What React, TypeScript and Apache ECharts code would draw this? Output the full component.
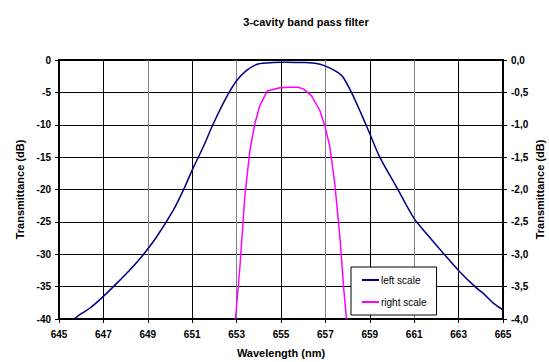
import React, { useEffect, useRef } from "react";
import * as echarts from "echarts";

const titleText = "3-cavity band pass filter";
const xName = "Wavelength (nm)";
const yName = "Transmittance (dB)";
const seriesNames = ["left scale", "right scale"];

const leftWl = [645.69, 645.95, 646.4, 647.0, 647.6, 648.2, 648.72, 649.4, 650.15, 650.6, 651.0, 651.5, 651.95, 652.55, 653.0, 653.45, 653.9, 654.35, 655.0, 655.6, 656.1, 656.6, 656.95, 657.3, 657.55, 657.8, 658.2, 658.6, 659.0, 659.45, 660.2, 661.0, 661.55, 662.3, 663.05, 663.8, 664.1, 664.55, 665.0];
const leftDb = [-40, -39.3, -38.3, -36.5, -34.5, -32.4, -30.4, -27.3, -23.2, -20.1, -17.0, -13.4, -9.85, -5.7, -3.2, -1.6, -0.7, -0.46, -0.36, -0.37, -0.4, -0.55, -0.87, -1.4, -1.9, -2.67, -5.2, -8.2, -11.4, -15.0, -19.6, -24.5, -26.8, -29.8, -32.7, -35.2, -36.0, -37.5, -38.6];

const rightWl = [652.95, 653.15, 653.37, 653.6, 653.82, 654.05, 654.38, 654.95, 655.4, 655.77, 656.0, 656.37, 656.75, 656.97, 657.2, 657.42, 657.65, 657.83, 657.95];
const rightDb = [-4.0, -3.19, -2.11, -1.39, -0.985, -0.70, -0.48, -0.43, -0.42, -0.42, -0.446, -0.55, -0.78, -1.01, -1.34, -1.9, -2.72, -3.55, -4.0];

export default function App() {
  const ref = useRef<HTMLDivElement>(null);
  useEffect(() => {
    if (!ref.current) return;
    const chart = echarts.init(ref.current, undefined, { renderer: "svg" });
    const font = "Arial, 'Liberation Sans', sans-serif";
    chart.setOption({
      animation: false,
      backgroundColor: "#fff",
      title: {
        text: titleText,
        left: 301,
        top: 11,
        textAlign: "center",
        textStyle: { fontFamily: font, fontSize: 11, fontWeight: "bold", color: "#000" },
      },
      grid: {
        left: 59,
        right: 46,
        top: 60,
        bottom: 43,
        containLabel: false,
        outerBoundsMode: "none",
        show: true,
        borderColor: "#000",
        borderWidth: 2,
        backgroundColor: "transparent",
      },
      legend: {
        orient: "vertical",
        left: 351,
        top: 267,
        padding: [8, 10, 8, 11],
        itemGap: 12,
        itemWidth: 17,
        itemHeight: 2,
        icon: "rect",
        backgroundColor: "#fff",
        borderColor: "#000",
        borderWidth: 1,
        textStyle: { fontFamily: font, fontSize: 10, color: "#000", padding: [0, 0, 0, -3] },
        data: seriesNames,
      },
      xAxis: {
        type: "value",
        min: 645,
        max: 665,
        interval: 2,
        name: xName,
        nameLocation: "middle",
        nameGap: 28,
        nameTextStyle: { fontFamily: font, fontSize: 11, fontWeight: "bold", color: "#000" },
        axisLine: { show: true, onZero: false, lineStyle: { color: "#000", width: 2 } },
        axisTick: { show: true, length: 4, lineStyle: { color: "#000" } },
        axisLabel: { margin: 10, fontFamily: font, fontSize: 10, fontWeight: "bold", color: "#000" },
        splitLine: { show: true, lineStyle: { color: ["#808080", "#000"], width: 1 } },
      },
      yAxis: [
        {
          type: "value",
          position: "left",
          min: -40,
          max: 0,
          interval: 5,
          name: yName,
          nameLocation: "middle",
          nameGap: 33,
          nameRotate: 90,
          nameTextStyle: { fontFamily: font, fontSize: 11, fontWeight: "bold", color: "#000" },
          axisLine: { show: true, onZero: false, lineStyle: { color: "#000", width: 2 } },
          axisTick: { show: true, length: 4, lineStyle: { color: "#000" } },
          axisLabel: { margin: 8, fontFamily: font, fontSize: 10, fontWeight: "bold", color: "#000" },
          splitLine: { show: true, lineStyle: { color: "#000", width: 1 } },
        },
        {
          type: "value",
          position: "right",
          min: -4,
          max: 0,
          interval: 0.5,
          name: yName,
          nameLocation: "middle",
          nameGap: 31,
          nameMoveOverlap: false,
          nameRotate: 90,
          nameTextStyle: { fontFamily: font, fontSize: 11, fontWeight: "bold", color: "#000" },
          axisLine: { show: true, onZero: false, lineStyle: { color: "#000", width: 2 } },
          axisTick: { show: true, length: 4, lineStyle: { color: "#000" } },
          axisLabel: {
            margin: 8,
            fontFamily: font,
            fontSize: 10,
            fontWeight: "bold",
            color: "#000",
            formatter: (v: number) => v.toFixed(1).replace(".", ","),
          },
          splitLine: { show: false },
        },
      ],
      series: [
        {
          name: seriesNames[0],
          type: "line",
          yAxisIndex: 0,
          showSymbol: false,
          smooth: 0.3,
          lineStyle: { color: "#000080", width: 1.5 },
          itemStyle: { color: "#000080" },
          data: leftWl.map((w, i) => [w, leftDb[i]]),
        },
        {
          name: seriesNames[1],
          type: "line",
          yAxisIndex: 1,
          showSymbol: false,
          lineStyle: { color: "#FF00FF", width: 1.5 },
          itemStyle: { color: "#FF00FF" },
          data: rightWl.map((w, i) => [w, rightDb[i]]),
        },
      ],
    });
    return () => chart.dispose();
  }, []);
  return <div ref={ref} style={{ width: 549, height: 362, position: "absolute", left: 0, top: 0 }} />;
}
